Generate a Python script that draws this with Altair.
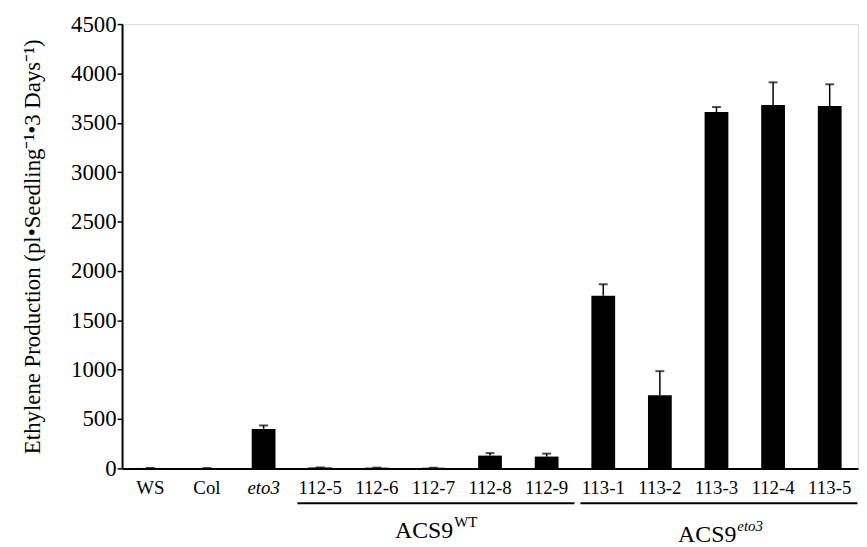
import altair as alt
import pandas as pd

categories = ["WS", "Col", "eto3", "112-5", "112-6", "112-7", "112-8", "112-9",
              "113-1", "113-2", "113-3", "112-4", "113-5"]
values = [5, 4, 400, 10, 8, 7, 130, 120, 1750, 740, 3610, 3680, 3670]
errors = [0, 0, 35, 0, 0, 0, 25, 30, 115, 245, 50, 230, 220]
y_ticks = [0, 500, 1000, 1500, 2000, 2500, 3000, 3500, 4000, 4500]

groups = ["ACS9", "ACS9"]
group_sup = ["WT", "eto3"]
group_sup_style = ["normal", "italic"]
group_start = ["112-5", "113-1"]
group_end = ["112-9", "113-5"]
group_mid = ["112-7", "113-3"]

df = pd.DataFrame({"cat": categories, "val": values,
                   "top": [v + e for v, e in zip(values, errors)]})
gdf = pd.DataFrame({"name": groups, "sup": group_sup,
                    "start": group_start, "end": group_end, "mid": group_mid})

FONT = "Liberation Serif"
W, H = 742, 448
label_y = [H + 70, H + 74]

xscale = alt.Scale(domain=categories, paddingInner=0.58, paddingOuter=0.29)
yscale = alt.Scale(domain=[0, 4500], nice=False)

x_enc = alt.X("cat:N", scale=xscale, sort=categories,
              axis=alt.Axis(title=None, labelAngle=0, ticks=False, labelFontSize=19,
                            labelFont=FONT, labelColor="black", labelPadding=10,
                            domainColor="black", domainWidth=2,
                            labelFontStyle=alt.expr("datum.value == 'eto3' ? 'italic' : 'normal'")))
y_enc = alt.Y("val:Q", scale=yscale,
              axis=alt.Axis(title="Ethylene Production (pl•Seedling⁻¹•3 Days⁻¹)",
                            values=y_ticks, format="d", grid=False, tickSize=5,
                            tickColor="black", tickWidth=1.5, domainColor="black",
                            domainWidth=2, labelFont=FONT, labelFontSize=23,
                            labelColor="black", labelPadding=1, titleFont=FONT,
                            titleFontSize=23, titleFontWeight="normal",
                            titleColor="black", titlePadding=26))

base = alt.Chart(df)
bars = base.mark_bar(color="black").encode(x=x_enc, y=y_enc)
err = base.mark_rule(color="black", strokeWidth=1.5).encode(
    x=alt.X("cat:N", scale=xscale, sort=categories),
    y=alt.Y("val:Q", scale=yscale), y2="top:Q")
caps = base.mark_tick(color="black", thickness=2, size=9, orient="horizontal").encode(
    x=alt.X("cat:N", scale=xscale, sort=categories),
    y=alt.Y("top:Q", scale=yscale))

gbase = alt.Chart(gdf)
underline = gbase.mark_rule(color="black", strokeWidth=2, xOffset=-23, x2Offset=28).encode(
    x=alt.X("start:N", scale=xscale, sort=categories),
    x2="end:N",
    y=alt.value(H + 35))

layers = [bars, err, caps, underline]
for i in range(len(groups)):
    sub = alt.Chart(gdf).transform_filter(alt.datum.mid == group_mid[i])
    layers.append(sub.mark_text(font=FONT, fontSize=24, color="black", align="right",
                                baseline="alphabetic", dx=20).encode(
        x=alt.X("mid:N", scale=xscale, sort=categories),
        y=alt.value(label_y[i]), text="name:N"))
    layers.append(sub.mark_text(font=FONT, fontSize=15, color="black", align="left",
                                baseline="alphabetic", dx=21, dy=-11,
                                fontStyle=group_sup_style[i]).encode(
        x=alt.X("mid:N", scale=xscale, sort=categories),
        y=alt.value(label_y[i]), text="sup:N"))

chart = alt.layer(*layers).properties(
    width=W, height=H,
    padding={"left": 115, "top": 14, "right": 1, "bottom": 77},
    autosize=alt.AutoSizeParams(type="none"),
).configure_view(stroke="black", strokeWidth=1.5).configure(background="white")

chart.save("out.html", embed_options={"renderer": "svg", "actions": False})
